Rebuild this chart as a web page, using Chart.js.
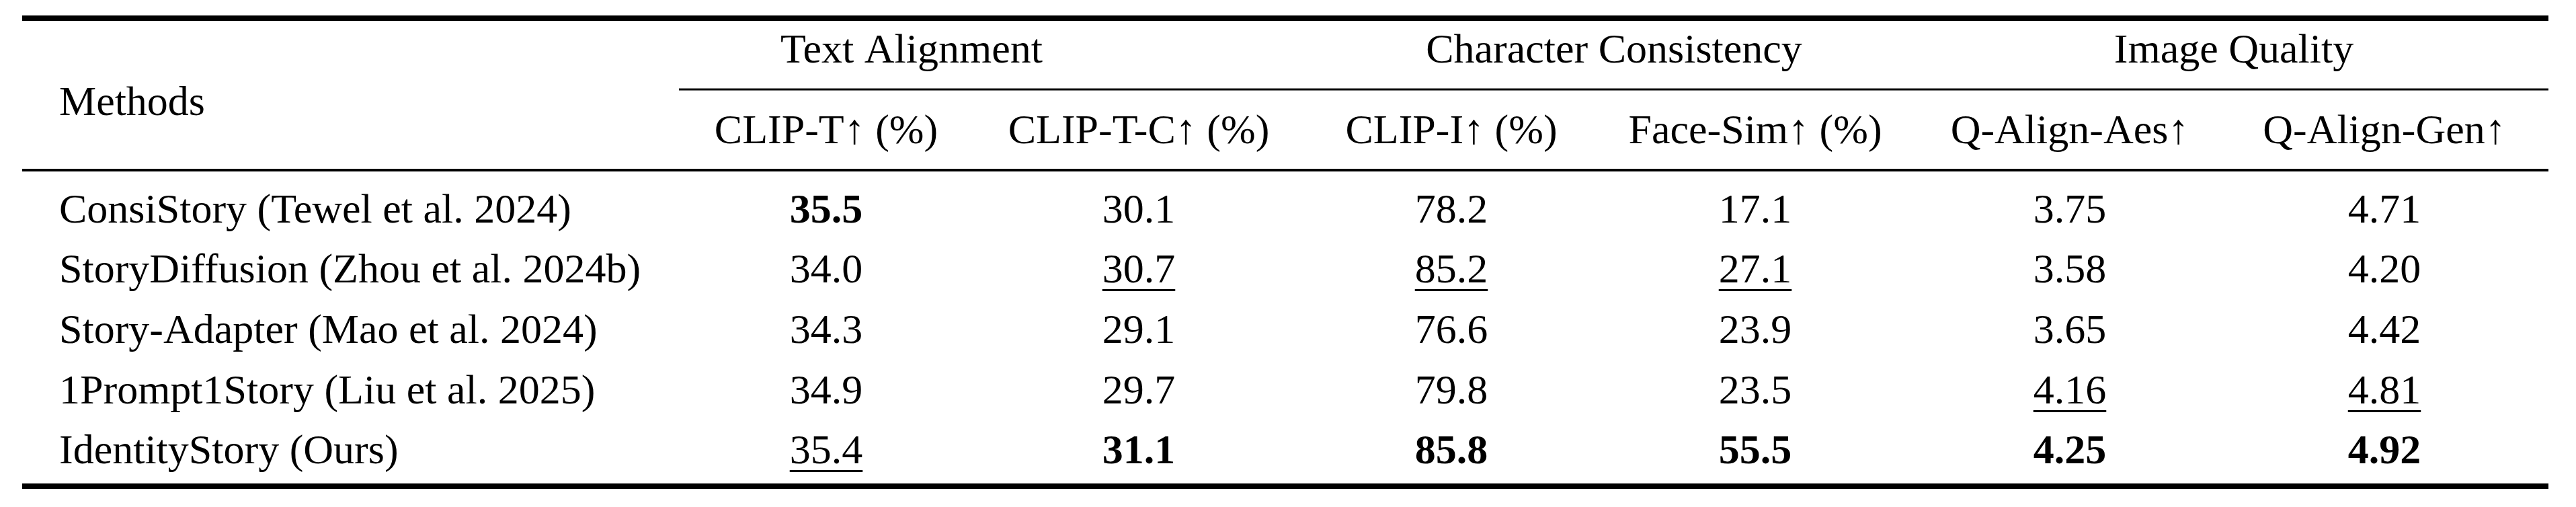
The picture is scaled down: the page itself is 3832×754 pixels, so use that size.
<!DOCTYPE html>
<html><head><meta charset="utf-8">
<script src="https://cdn.jsdelivr.net/npm/chart.js@4"></script>
<style>html,body{margin:0;padding:0;background:#fff;overflow:hidden}</style>
</head><body>
<canvas id="c" width="3832" height="754"></canvas>
<script>
const methods = ["ConsiStory (Tewel et al. 2024)","StoryDiffusion (Zhou et al. 2024b)","Story-Adapter (Mao et al. 2024)","1Prompt1Story (Liu et al. 2025)","IdentityStory (Ours)"];
const groups = ["Text Alignment","Character Consistency","Image Quality"];
const metrics = ["CLIP-T\u2191 (%)","CLIP-T-C\u2191 (%)","CLIP-I\u2191 (%)","Face-Sim\u2191 (%)","Q-Align-Aes\u2191","Q-Align-Gen\u2191"];
const clipT = [35.5,34.0,34.3,34.9,35.4];
const clipTC = [30.1,30.7,29.1,29.7,31.1];
const clipI = [78.2,85.2,76.6,79.8,85.8];
const faceSim = [17.1,27.1,23.9,23.5,55.5];
const aes = [3.75,3.58,3.65,4.16,4.25];
const gen = [4.71,4.20,4.42,4.81,4.92];
const decimals = [1,1,1,1,2,2];

// layout (pixels)
const colX = [1229,1694,2159,2611,3079,3547];
const groupX = [1356,2401,3323];
const rowY = [315,404,494,584,673];
const FONT = '"Liberation Serif","Times New Roman",serif';
const FS = 62;

const cols = [clipT,clipTC,clipI,faceSim,aes,gen];
const pts = [];
cols.forEach((c,ci)=>c.forEach((v,ri)=>pts.push({x:colX[ci],y:rowY[ri],ci,ri,v})));

const tablePlugin = {
  id:'table',
  afterDatasetsDraw(chart){
    const ctx=chart.ctx, xs=chart.scales.x, ys=chart.scales.y;
    const X=v=>xs.getPixelForValue(v), Y=v=>ys.getPixelForValue(v);
    ctx.save();
    ctx.fillStyle='#000'; ctx.strokeStyle='#000';
    const hline=(x1,x2,y,w)=>{ctx.fillRect(X(x1),Y(y)-w/2,X(x2)-X(x1),w);};
    hline(33,3791,27,8);
    hline(1010,3791,133,3);
    hline(33,3791,253,4);
    hline(33,3791,723,8);
    ctx.textBaseline='middle';
    ctx.font=`${FS}px ${FONT}`;
    ctx.textAlign='left';
    ctx.fillText("Methods",X(88),Y(155));
    methods.forEach((m,i)=>ctx.fillText(m,X(88),Y(rowY[i])));
    ctx.textAlign='center';
    groups.forEach((g,i)=>ctx.fillText(g,X(groupX[i]),Y(77)));
    metrics.forEach((m,i)=>ctx.fillText(m,X(colX[i]),Y(197)));
    const meta=chart.getDatasetMeta(0);
    meta.data.forEach((el,k)=>{
      const p=pts[k];
      const col=cols[p.ci];
      const sorted=[...col].sort((a,b)=>b-a);
      const bold=p.v===sorted[0], under=p.v===sorted[1];
      ctx.font=`${bold?'bold ':''}${FS}px ${FONT}`;
      const s=p.v.toFixed(decimals[p.ci]);
      ctx.fillText(s,el.x,el.y);
      if(under){
        const w=ctx.measureText(s).width;
        ctx.fillRect(el.x-w/2,el.y+26,w,3);
      }
    });
    ctx.restore();
  }
};

new Chart(document.getElementById('c'),{
  type:'scatter',
  data:{datasets:[{data:pts,pointRadius:0,pointHoverRadius:0}]},
  options:{
    responsive:false,animation:false,devicePixelRatio:1,
    layout:{padding:0},
    plugins:{legend:{display:false},tooltip:{enabled:false}},
    scales:{
      x:{type:'linear',min:0,max:3832,display:false},
      y:{type:'linear',min:0,max:754,reverse:true,display:false}
    }
  },
  plugins:[tablePlugin]
});
</script>
</body></html>
